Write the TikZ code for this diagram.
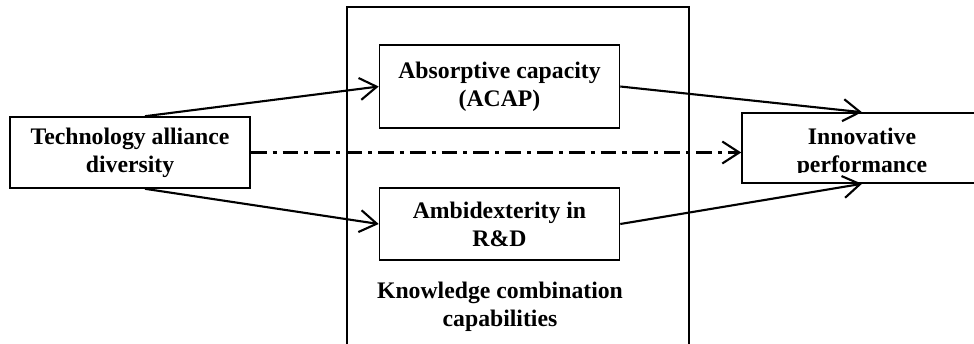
\documentclass[tikz,border=0pt]{standalone}
\usepackage{fontspec}
\setmainfont{Liberation Serif}
\usetikzlibrary{arrows.meta}

\begin{document}
\begin{tikzpicture}[>={Straight Barb[length=0.34cm, width=0.44cm]}, line width=0.9pt,
    font=\bfseries\fontsize{13.5}{16}\selectfont,
    varbox/.style={draw, minimum width=4.8cm, align=center, inner sep=0pt},
    link/.style={->, line width=1.2pt}]
  \useasboundingbox (0,0) rectangle (19.48,6.86);
  \draw (6.94,-0.2) -- (6.94,6.72) -- (13.78,6.72) -- (13.78,-0.2);
  \node[varbox, minimum height=1.42cm] (tad) at (2.6,3.81) {Technology alliance\\diversity};
  \node[varbox, minimum height=1.66cm] (acap) at (9.99,5.13) {Absorptive capacity\\(ACAP)};
  \node[varbox, minimum height=1.44cm] (ambi) at (9.99,2.38) {Ambidexterity in\\R\&D};
  \node[align=center] (kcc) at (10.0,0.72) {Knowledge combination\\capabilities};
  \node[varbox, minimum height=1.4cm] (perf) at (17.24,3.9) {};
  \begin{scope}
    \clip (perf.north west) rectangle ([yshift=0.22cm]perf.south east);
    \node[align=center] (perftext) at ([yshift=-0.1cm]perf.center) {Innovative\\performance};
  \end{scope}
  \draw[link] ([xshift=0.3cm]tad.north) -- (acap.west);
  \draw[link] ([xshift=0.3cm]tad.south) -- (ambi.west);
  \draw[link] (acap.east) -- (perf.north);
  \draw[link] (ambi.east) -- (perf.south);
  \draw[link, dash pattern=on 9pt off 3.4pt on 2.3pt off 3.4pt] (tad.east) -- (tad.east -| perf.west);
\end{tikzpicture}
\end{document}
